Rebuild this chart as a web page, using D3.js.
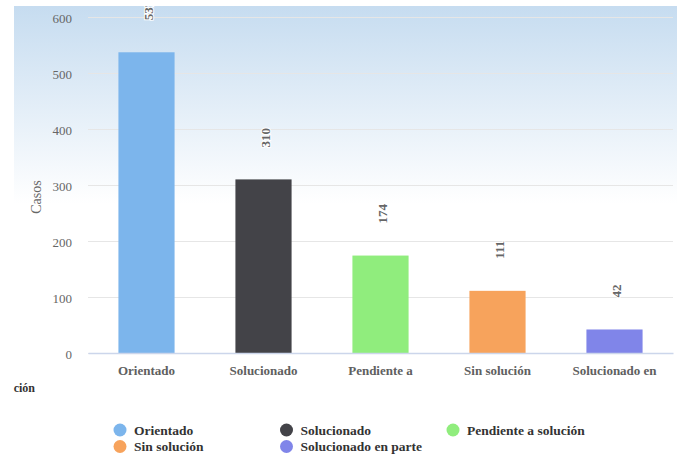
<!DOCTYPE html>
<html>
<head>
<meta charset="utf-8">
<script src="https://cdn.jsdelivr.net/npm/d3@7"></script>
<style>
  body { margin: 0; background: #fff; }
  svg { display: block; font-family: "Liberation Serif", "Times New Roman", serif; }
</style>
</head>
<body>
<script>
// datos del grafico
var categorias = ["Orientado", "Solucionado", "Pendiente a solución", "Sin solución", "Solucionado en parte"];
var etiquetas = ["Orientado", "Solucionado", "Pendiente a", "Sin solución", "Solucionado en"];
var casos = [537, 310, 174, 111, 42];
var colores = ["#7cb5ec", "#434348", "#90ed7d", "#f7a35c", "#8085e9"];
var ticksY = [0, 100, 200, 300, 400, 500, 600];

var fuente = "'Liberation Serif', 'Times New Roman', serif";
var width = 677, height = 455;
var plotLeft = 88, plotRight = 673, plotTop = 17, plotBottom = 353;

var svg = d3.select("body").append("svg")
    .attr("width", width).attr("height", height);

var defs = svg.append("defs");
var grad = defs.append("linearGradient").attr("id", "fondo")
    .attr("x1", 0).attr("y1", 0).attr("x2", 0).attr("y2", 1);
grad.append("stop").attr("offset", "0%").attr("stop-color", "#c6dcf0");
grad.append("stop").attr("offset", "44%").attr("stop-color", "#ffffff");

defs.append("clipPath").attr("id", "recorte")
  .append("rect").attr("x", 14).attr("y", 6).attr("width", width - 14).attr("height", height - 6);

svg.append("rect")
    .attr("x", 14).attr("y", 6)
    .attr("width", width - 14).attr("height", height - 6)
    .attr("fill", "url(#fondo)");

var x = d3.scaleBand()
    .domain(categorias)
    .range([plotLeft, plotRight])
    .paddingInner(0.52)
    .paddingOuter(0.26);

var y = d3.scaleLinear()
    .domain([0, 600])
    .range([plotBottom, plotTop]);

// eje y + lineas de grilla
var ejeY = svg.append("g")
    .attr("transform", "translate(" + plotLeft + ",0)")
    .call(d3.axisLeft(y).tickValues(ticksY).tickSize(-(plotRight - plotLeft)).tickPadding(16))
    .attr("font-family", fuente);
ejeY.select(".domain").remove();
ejeY.selectAll("line").attr("stroke", "#e6e6e6");
ejeY.selectAll("text")
    .attr("fill", "#666")
    .style("font-size", "13px")
    .attr("dy", "0.4em");

svg.append("text")
    .attr("transform", "translate(41,197) rotate(-90)")
    .attr("text-anchor", "middle")
    .attr("fill", "#666")
    .style("font-size", "14px")
    .text("Casos");

// barras
svg.append("g").selectAll("rect")
    .data(casos)
    .enter().append("rect")
    .attr("x", (d, i) => x(categorias[i]))
    .attr("y", d => y(d))
    .attr("width", x.bandwidth())
    .attr("height", d => y(0) - y(d))
    .attr("fill", (d, i) => colores[i]);

// eje x
var ejeX = svg.append("g")
    .attr("transform", "translate(0," + plotBottom + ")")
    .call(d3.axisBottom(x).tickSize(0).tickPadding(13).tickFormat((d, i) => etiquetas[i]))
    .attr("font-family", fuente);
ejeX.select(".domain").attr("stroke", "#ccd6eb").attr("stroke-width", 1.5);
ejeX.selectAll("text")
    .attr("fill", "#606060")
    .style("font-size", "13px")
    .style("font-weight", "bold");

// etiquetas de valor
svg.append("g").attr("clip-path", "url(#recorte)")
  .selectAll("text")
    .data(casos)
    .enter().append("text")
    .attr("transform", (d, i) => "translate(" + (x(categorias[i]) + x.bandwidth() / 2 + 6) + "," + (y(d) - 32) + ") rotate(-90)")
    .attr("text-anchor", "start")
    .attr("fill", "#666")
    .attr("stroke", "#fff")
    .attr("stroke-width", 2)
    .attr("paint-order", "stroke")
    .style("font-size", "13px")
    .style("font-weight", "bold")
    .text(d => d);

// titulo del eje x (cortado en el original)
svg.append("text")
    .attr("x", 35).attr("y", 392)
    .attr("text-anchor", "end")
    .attr("fill", "#333")
    .style("font-size", "12px")
    .style("font-weight", "bold")
    .text("ción");

// leyenda
var leyenda = svg.append("g").selectAll("g")
    .data(categorias)
    .enter().append("g")
    .attr("transform", (d, i) => "translate(" + (120 + (i % 3) * 166.5) + "," + (430 + Math.floor(i / 3) * 16.5) + ")");
leyenda.append("circle")
    .attr("r", 6.5)
    .attr("fill", (d, i) => colores[i]);
leyenda.append("text")
    .attr("x", 14)
    .attr("y", 4.5)
    .attr("fill", "#333")
    .style("font-size", "13.5px")
    .style("font-weight", "bold")
    .text(d => d);
</script>
</body>
</html>
